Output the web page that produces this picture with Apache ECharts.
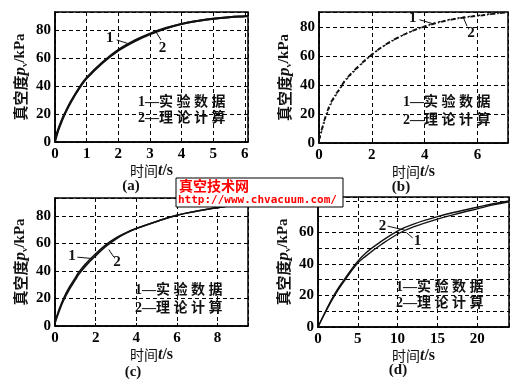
<!DOCTYPE html>
<html lang="zh">
<head>
<meta charset="UTF-8">
<title>真空度曲线</title>
<script src="https://cdn.jsdelivr.net/npm/echarts@6/dist/echarts.min.js"></script>
<style>html,body{margin:0;padding:0;background:#fff}</style>
</head>
<body>
<div id="main" style="width:518px;height:386px"></div>
<script>
// (a)
var timeA   = [0, 0.1, 0.2, 0.3, 0.5, 0.8, 1, 1.5, 2, 2.5, 3, 3.5, 4, 4.5, 5, 5.5, 6, 6.1];
var expA    = [2, 9, 15, 20, 29, 40, 46, 57, 66, 72.5, 77.5, 81.5, 84.5, 86.6, 88.2, 89.3, 90, 90.1];
var theoA   = [0, 8, 14, 19.5, 28.5, 39.5, 45.5, 56.5, 65.3, 71.8, 77, 81.2, 84.4, 86.6, 88.2, 89.3, 90, 90.1];
// (b)
var timeB   = [0, 0.1, 0.28, 0.5, 0.84, 1, 1.5, 2, 2.5, 3, 3.5, 4, 4.5, 5, 5.5, 6, 6.5, 7, 7.1];
var expB    = [2, 9, 20, 29.5, 39, 43.5, 53, 61, 67.6, 72.8, 77, 80.2, 83, 85, 86.5, 87.6, 88.8, 89.8, 90];
var theoB   = [0, 8, 19, 28.5, 38.5, 43, 52.5, 60.8, 67.4, 72.7, 77, 80.5, 83.3, 85.3, 86.8, 87.9, 89, 90, 90.2];
// (c)
var timeC   = [0, 0.2, 0.42, 0.7, 1, 1.17, 1.5, 2, 2.5, 3, 3.5, 4, 5, 6, 7, 8, 9, 9.5];
var expC    = [3, 12, 20, 28, 35, 39, 45, 52.5, 59, 64, 67.8, 70.8, 76, 80.5, 83.5, 86, 88.3, 89.3];
var theoC   = [2, 10.5, 18.5, 26.5, 33.5, 37.5, 43.5, 51, 57.8, 63.2, 67.5, 70.8, 76, 80.5, 83.5, 86, 88.3, 89.3];
// (d)
var timeD   = [0, 1, 2.1, 3, 4.8, 6, 8, 10.2, 12, 15, 18, 20, 22, 24];
var expD    = [0, 10, 20, 27, 39.5, 45, 52.5, 59.5, 63.5, 68.5, 72.5, 75, 77.5, 79.5];
var theoD   = [0, 10.5, 21, 28, 40.5, 47, 54.5, 61.5, 65.3, 70, 73.8, 76, 78.2, 80];

// axis ranges: [xMax, xInterval, yMax, yInterval]
var ranges = [[6.1, 1, 93, 20], [7.15, 2, 90.3, 20], [9.5, 2, 93, 20], [24, 5, 82.5, 10]];
var panelNames = ['(a)', '(b)', '(c)', '(d)'];
var legendLines = ['1\u2014实 验 数 据', '2\u2014理 论 计 算'];

var serif = '"Liberation Serif", "Noto Sans CJK SC", serif';
var grids = [
    {left: 55, top: 12, width: 193, height: 130},
    {left: 319, top: 12, width: 189, height: 131},
    {left: 55, top: 198, width: 193, height: 128},
    {left: 318, top: 197, width: 191, height: 130}
];

function pairs(t, v) {
    return t.map(function (x, i) { return [x, v[i]]; });
}
function isStep(v, step) {
    var r = v / step;
    return Math.abs(r - Math.round(r)) < 1e-6;
}

var chart = echarts.init(document.getElementById('main'));
var xAxes = [], yAxes = [];
ranges.forEach(function (r, i) {
    xAxes.push({
        type: 'value', gridIndex: i, min: 0, max: r[0], interval: r[1],
        name: '时间{t|t}{s|/s}', nameLocation: 'middle', nameGap: 19,
        nameTextStyle: {
            fontFamily: '"Noto Sans CJK SC"', fontSize: 14, color: '#111',
            rich: {
                t: {fontFamily: serif, fontStyle: 'italic', fontWeight: 'bold', fontSize: 16, color: '#111'},
                s: {fontFamily: serif, fontWeight: 'bold', fontSize: 16, color: '#111'}
            }
        },
        axisLine: {lineStyle: {color: '#000', width: 1.5}},
        axisTick: {inside: true, length: 3, lineStyle: {color: '#000'}},
        axisLabel: {
            margin: 5, color: '#000', fontFamily: serif, fontWeight: 'bold', fontSize: 15,
            formatter: function (v) { return isStep(v, r[1]) ? v : ''; }
        },
        splitLine: {show: true, lineStyle: {color: '#000', type: [4, 3], width: 1}}
    });
    yAxes.push({
        type: 'value', gridIndex: i, min: 0, max: r[2], interval: r[3],
        name: '真空度{p|p}{v|v}{u|/kPa}', nameLocation: 'middle', nameRotate: 90, nameGap: 26,
        nameTextStyle: {
            fontFamily: '"Noto Sans CJK SC"', fontWeight: 'bold', fontSize: 15, color: '#111',
            rich: {
                p: {fontFamily: serif, fontStyle: 'italic', fontWeight: 'bold', fontSize: 17, color: '#111'},
                v: {fontFamily: serif, fontWeight: 'bold', fontSize: 9, color: '#111', verticalAlign: 'bottom', padding: [7, 0, 0, 0]},
                u: {fontFamily: serif, fontWeight: 'bold', fontSize: 15, color: '#111'}
            }
        },
        axisLine: {lineStyle: {color: '#000', width: 1.5}},
        axisTick: {inside: true, length: 3, lineStyle: {color: '#000'}},
        axisLabel: {
            margin: 4, color: '#000', fontFamily: serif, fontWeight: 'bold', fontSize: 15,
            formatter: function (v) { return isStep(v, 20) ? v : ''; }
        },
        splitLine: {show: true, lineStyle: {color: '#000', type: [4, 3], width: 1}}
    });
});

var lineSeries = [
    [timeA, expA, 'solid', 2],   [timeA, theoA, 'solid', 2],
    [timeB, expB, [5, 2, 1, 2], 1.8], [timeB, theoB, [2, 3], 1.4],
    [timeC, expC, 'solid', 1.6], [timeC, theoC, 'solid', 1.6],
    [timeD, expD, 'solid', 1.4], [timeD, theoD, 'solid', 1.4]
];
var series = lineSeries.map(function (s, k) {
    var gi = Math.floor(k / 2);
    return {
        type: 'line', xAxisIndex: gi, yAxisIndex: gi,
        data: pairs(s[0], s[1]), showSymbol: false, smooth: 0.4,
        lineStyle: {color: '#111', width: s[3], type: s[2]}, silent: true
    };
});

chart.setOption({
    animation: false,
    grid: grids.map(function (g) {
        return Object.assign({show: true, borderColor: '#000', borderWidth: 1.5, outerBoundsMode: 'none'}, g);
    }),
    xAxis: xAxes,
    yAxis: yAxes,
    series: series
});

// curve labels "1" / "2" with leader lines, in data coordinates: [grid, text, textPos, from, to]
var notes = [
    [0, '1', [1.73, 74.3], [1.95, 73], [2.3, 70.5]],
    [0, '2', [3.4, 67.5], [3.35, 73], [3.2, 78.5]],
    [1, '1', [3.55, 86], [3.8, 85], [4.35, 82]],
    [1, '2', [5.75, 76], [5.6, 80.5], [5.45, 87]],
    [2, '1', [0.84, 51], [1.1, 50], [1.85, 49]],
    [2, '2', [3.05, 46.5], [2.9, 50], [2.65, 55.5]],
    [3, '2', [8.1, 64.3], [8.75, 64], [10.9, 61.5]],
    [3, '1', [12.5, 54.5], [11.9, 56.5], [11.1, 60]]
];
var graphics = [];
notes.forEach(function (n) {
    var tp = chart.convertToPixel({gridIndex: n[0]}, n[2]);
    var a = chart.convertToPixel({gridIndex: n[0]}, n[3]);
    var b = chart.convertToPixel({gridIndex: n[0]}, n[4]);
    graphics.push({type: 'text', silent: true, style: {text: n[1], x: tp[0], y: tp[1], textAlign: 'center', textVerticalAlign: 'middle', font: 'bold 15px ' + serif, fill: '#111'}});
    graphics.push({type: 'line', silent: true, shape: {x1: a[0], y1: a[1], x2: b[0], y2: b[1]}, style: {stroke: '#111', lineWidth: 1}});
});

// legend text inside each panel
var legendPos = [[138, 102, 118], [403, 102, 120], [135, 290, 308], [396, 287, 303]];
legendPos.forEach(function (p) {
    legendLines.forEach(function (txt, j) {
        graphics.push({type: 'text', silent: true, style: {text: txt, x: p[0], y: p[1 + j], textVerticalAlign: 'middle', font: 'bold 14px ' + serif, fill: '#111'}});
    });
});

// panel captions
var capPos = [[131, 186], [401, 187], [133, 372], [398, 370]];
capPos.forEach(function (p, i) {
    graphics.push({type: 'text', silent: true, style: {text: panelNames[i], x: p[0], y: p[1], textAlign: 'center', textVerticalAlign: 'middle', font: 'bold 15px ' + serif, fill: '#111'}});
});

// watermark box
graphics.push({type: 'rect', silent: true, z: 100, shape: {x: 176, y: 178, width: 167, height: 29}, style: {fill: '#fff', stroke: '#000', lineWidth: 1}});
graphics.push({type: 'text', silent: true, z: 101, style: {text: '真空技术网', x: 179, y: 186, textVerticalAlign: 'middle', font: 'bold 14px "Noto Sans CJK SC"', fill: '#f00'}});
graphics.push({type: 'text', silent: true, z: 101, style: {text: 'http://www.chvacuum.com/', x: 178, y: 200, textVerticalAlign: 'middle', font: 'bold 11px "DejaVu Sans Mono"', fill: '#f00'}});

chart.setOption({graphic: graphics});
</script>
</body>
</html>
